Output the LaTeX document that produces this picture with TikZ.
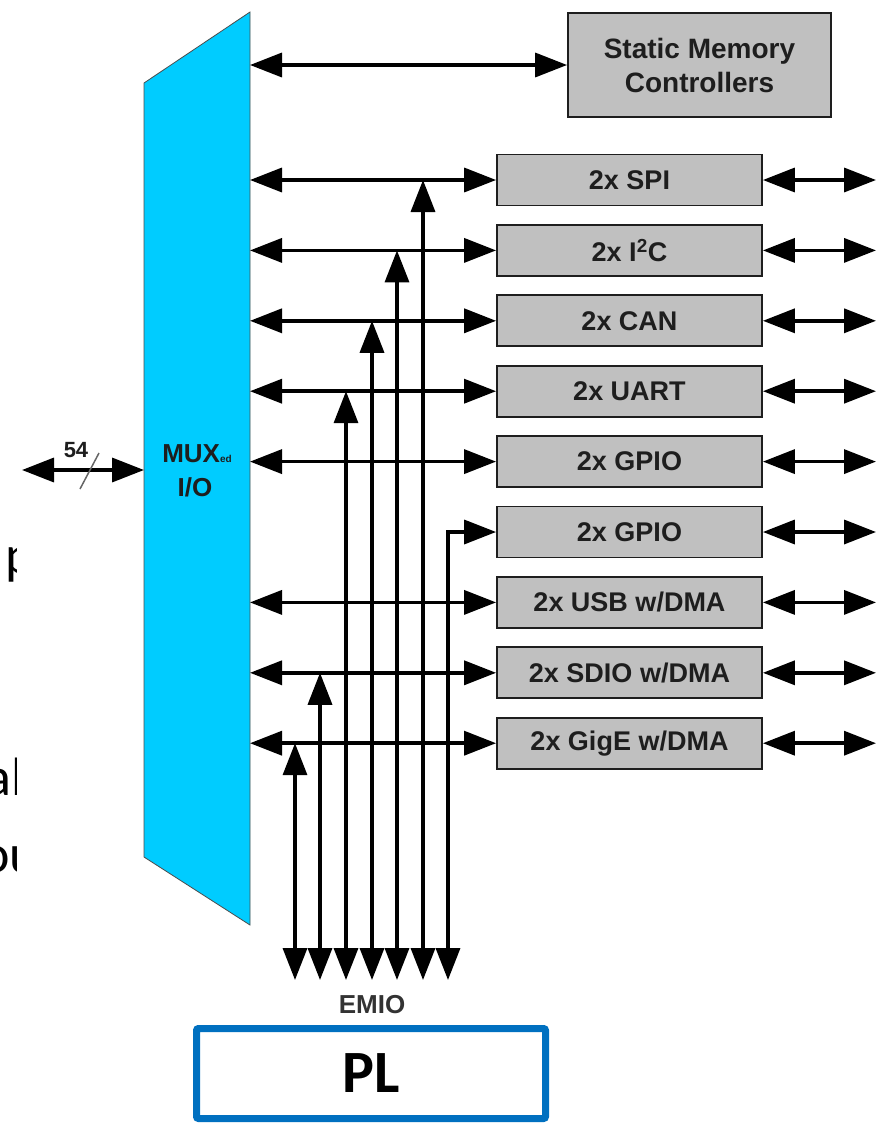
\documentclass[tikz,border=0pt]{standalone}
\usepackage{fontspec}
\setmainfont{Liberation Sans}
\newfontfamily\calib{Carlito}
\usetikzlibrary{arrows.meta}
\definecolor{muxcyan}{HTML}{00CCFF}
\definecolor{boxgray}{HTML}{C0C0C0}
\definecolor{plblue}{HTML}{0070C0}
\definecolor{inkgray}{HTML}{1E1E1E}
\begin{document}
\begin{tikzpicture}[x=1pt,y=-1pt,
  periph/.style={draw=inkgray, line width=1.8pt, fill=boxgray, minimum width=265pt,
    minimum height=51pt, inner sep=0pt, text=inkgray,
    font=\fontsize{27}{30}\selectfont\bfseries},
  dbl/.style={line width=3.5pt, draw=black,
    arrows={Triangle[length=32pt,width=24pt]-Triangle[length=32pt,width=24pt]}},
  lbl/.style={text=inkgray, inner sep=0pt},
  frag/.style={anchor=base west, inner sep=0pt, font=\calib\fontsize{54}{54}\selectfont}
]
\useasboundingbox (0,0) rectangle (876,1125);

% left clipped text fragments
\begin{scope}
  \clip (0,500) rectangle (16,900);
  \node[frag] (fp) at (5,573) {p};
  \node[frag] (fal) at (-15,795) {al};
  \node[frag] (fou) at (-19,872) {ou};
\end{scope}

% MUX block
\draw[fill=muxcyan, draw=black!70, line width=0.8pt]
  (144,83) -- (250,12) -- (250,925) -- (144,857) -- cycle;
\coordinate (muxR) at (250,0);
\coordinate (muxL) at (144,470);
\node[lbl, font=\fontsize{26}{28}\selectfont\bfseries] (muxa) at (197,454)
  {MUX{\fontsize{10}{10}\selectfont ed}};
\node[lbl, font=\fontsize{26}{28}\selectfont\bfseries] (muxb) at (195,487) {I/O};

% 54 pin bus
\coordinate (pins) at (22,470);
\draw[dbl] (pins) -- (muxL);
\draw[black!60, line width=1.5pt] (80,489) -- (99,453);
\node[lbl, font=\fontsize{22}{22}\selectfont\bfseries] (n54) at (76,450) {54};

% Static memory
\node[periph, minimum width=263pt, minimum height=104pt, align=center,
  font=\fontsize{28}{34}\selectfont\bfseries] (smc) at (699.5,65)
  {Static Memory\\Controllers};
\draw[dbl] (muxR |- smc.west) -- (smc.west);

% peripheral boxes
\node[periph] (spi)  at (629.5,180.0) {2x SPI};
\node[periph] (iic)  at (629.5,250.4) {2x I\textsuperscript{2}C};
\node[periph] (can)  at (629.5,320.8) {2x CAN};
\node[periph] (uart) at (629.5,391.2) {2x UART};
\node[periph] (gpa)  at (629.5,461.6) {2x GPIO};
\node[periph] (gpb)  at (629.5,532.0) {2x GPIO};
\node[periph] (usb)  at (629.5,602.4) {2x USB w/DMA};
\node[periph] (sdio) at (629.5,672.8) {2x SDIO w/DMA};
\node[periph] (gige) at (629.5,743.2) {2x GigE w/DMA};

\coordinate (redge) at (876,0);
\foreach \b in {spi,iic,can,uart,gpa,gpb,usb,sdio,gige}{
  \draw[dbl] (\b.east) -- (\b.east -| redge);
}
\foreach \b in {spi,iic,can,uart,gpa,usb,sdio,gige}{
  \draw[dbl] (muxR |- \b.west) -- (\b.west);
}

% EMIO verticals
\coordinate (e1) at (295,980);
\coordinate (e2) at (320,980);
\coordinate (e3) at (346,980);
\coordinate (e4) at (372,980);
\coordinate (e5) at (397,980);
\coordinate (e6) at (423,980);
\coordinate (e7) at (448,980);
\draw[dbl] (e1) -- (e1 |- gige.west);
\draw[dbl] (e2) -- (e2 |- sdio.west);
\draw[dbl] (e3) -- (e3 |- uart.west);
\draw[dbl] (e4) -- (e4 |- can.west);
\draw[dbl] (e5) -- (e5 |- iic.west);
\draw[dbl] (e6) -- (e6 |- spi.west);
\draw[dbl] (e7) -- (e7 |- gpb.west) -- (gpb.west);

\node[lbl, text=black!80, font=\fontsize{26}{26}\selectfont\bfseries] (emio) at (372,1005) {EMIO};

% PL block
\node[draw=plblue, line width=7pt, rounded corners=2pt, minimum width=349pt,
  minimum height=90pt, inner sep=0pt, font=\calib\bfseries\fontsize{60}{60}\selectfont]
  (pl) at (371,1073.5) {PL};
\end{tikzpicture}
\end{document}
